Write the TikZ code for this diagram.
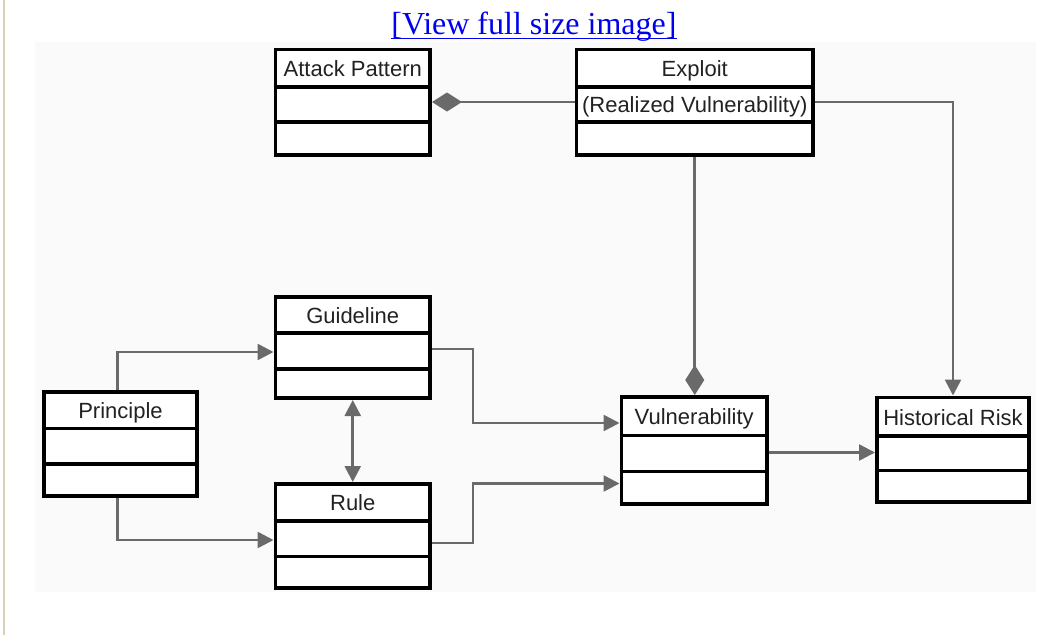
\documentclass[tikz,border=0pt]{standalone}
\usepackage{fontspec}
\setmainfont{Liberation Sans}
\newfontfamily\linkfont{Liberation Serif}
\usetikzlibrary{arrows.meta,calc}
\definecolor{conncol}{HTML}{6A6A6A}
\definecolor{txtcol}{HTML}{222222}
\definecolor{bgcol}{HTML}{FAFAFA}
\definecolor{edgecol}{HTML}{D8D0BA}
\definecolor{linkblue}{HTML}{0000EE}
\tikzset{
  umlbox/.style={draw=black, fill=white, line width=3.6pt, inner sep=0pt, outer sep=1.8pt},
  compline/.style={draw=black, line width=3.4pt},
  lbl/.style={font=\fontsize{22}{24}\selectfont, text=txtcol, inner sep=0pt, text height=15.75pt, text depth=0pt},
  conn/.style={draw=conncol, line width=2.6pt},
  arr/.style={conn, -{Triangle[length=16pt,width=16pt]}},
  dia/.style={conn, -{Diamond[length=30pt,width=19pt,fill=conncol]}}
}
% name, x1, y1, x2, y2, line1, line2
\newcommand\umlclassbox[7]{%
  \node[umlbox, minimum width={#4-#2-3.6}, minimum height={#5-#3-3.6}] (#1) at ({(#2+#4)/2},{(#3+#5)/2}) {};
  \draw[compline] (#2,#6) -- (#4,#6);
  \draw[compline] (#2,#7) -- (#4,#7);
}
\begin{document}
\begin{tikzpicture}[x=1pt,y=-1pt]
\useasboundingbox (0,0) rectangle (1050,635);
\fill[white] (0,0) rectangle (1050,635);
\fill[bgcol] (35,42) rectangle (1036,592);
\draw[edgecol, line width=2pt] (4,0) -- (4,635);

% link
\node[font=\linkfont\fontsize{32}{36}\selectfont, text=linkblue, inner sep=0pt, anchor=base] (link) at (534,34.5) {[View full size image]};
\draw[linkblue, line width=1.6pt] ([yshift=-4pt]link.base west) -- ([yshift=-4pt]link.base east);

% boxes
\umlclassbox{ap}{273.5}{47.5}{432}{156.5}{87}{122}
\node[lbl] (apt) at (352.75,68.5) {Attack Pattern};

\umlclassbox{ex}{574.5}{47.5}{815}{156.5}{87}{122}
\node[lbl] (ext) at (694.75,68.5) {Exploit};
\node[lbl] (ext2) at (694.75,105) {(Realized Vulnerability)};

\umlclassbox{gl}{273.5}{295}{432}{400}{333}{369}
\node[lbl] (glt) at (352.75,315.5) {Guideline};

\umlclassbox{rl}{273.5}{482}{432}{590}{521}{556.5}
\node[lbl] (rlt) at (352.75,503) {Rule};

\umlclassbox{pr}{42}{390}{199}{498}{428.5}{464}
\node[lbl] (prt) at (120.5,410.5) {Principle};

\umlclassbox{vu}{619.5}{395}{769}{506}{435.5}{471.5}
\node[lbl] (vut) at (694.25,416.5) {Vulnerability};

\umlclassbox{hr}{875}{395.5}{1031}{503.5}{436}{470.5}
\node[lbl] (hrt) at (953,417.5) {Historical Risk};

% connectors
\draw[dia] (ex.west) -- (ap.east);
\draw[arr] (ex.east) -| (hr.north);
\draw[dia] (ex.south) -- (ex.south |- vu.north);
\draw[arr] ([xshift=-3pt]pr.north) |- ([yshift=-4.5pt]gl.west);
\draw[arr] ([xshift=-3pt]pr.south) |- ([yshift=-4pt]rl.west);
\draw[conn, {Triangle[length=16pt,width=16pt]}-{Triangle[length=16pt,width=16pt]}] (gl.south) -- (rl.north);
\draw[arr] ([yshift=-1.5pt]gl.east) -- ++(41,0) |- ([yshift=27.5pt]vu.west);
\draw[arr] ([yshift=-7pt]rl.east) -- ++(41,0) |- ([yshift=-33pt]vu.west);
\draw[arr] ([yshift=-2pt]vu.east) coordinate (v1) -- (v1 -| hr.west);
\end{tikzpicture}
\end{document}
